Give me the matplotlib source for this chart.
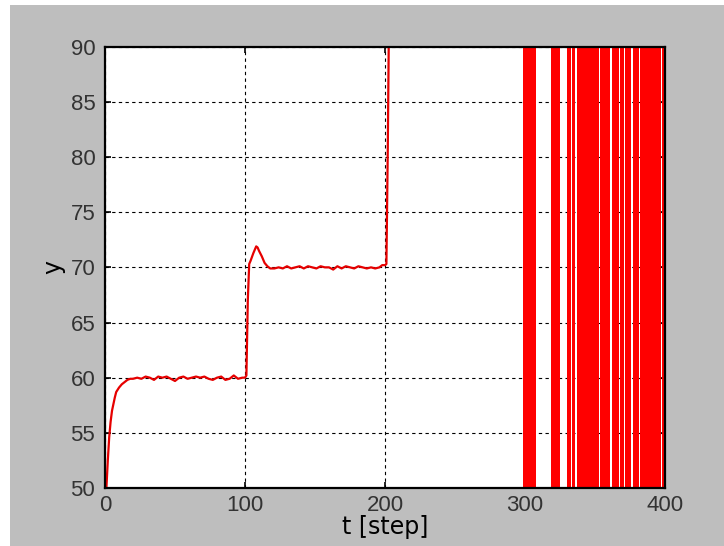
#!/usr/bin/env python3
"""
Step response plot: y vs t [step], controller diverging after t=300
"""

import matplotlib

matplotlib.use("Agg")
import matplotlib.pyplot as plt
from matplotlib.patches import Rectangle

# --- data ---
t_main = [
    0, 1, 2, 3, 4, 5, 6, 7, 8, 10, 12, 14, 16, 18,
    20, 23, 26, 29, 32, 35, 38, 41, 44, 47, 50, 53, 56, 59, 62,
    65, 68, 71, 74, 77, 80, 83, 86, 89, 92, 95, 98, 100,
    101, 102, 103, 104, 106, 108, 109, 110, 112, 114, 116, 118,
    121, 124, 127, 130, 133, 136, 139, 142, 145, 148, 151, 154,
    157, 160, 163, 166, 169, 172, 175, 178, 181, 184, 187, 190,
    193, 196, 198, 200, 201, 202, 203,
]
y_main = [
    50.0, 50.0, 52.5, 54.6, 56.0, 57.0, 57.6, 58.2, 58.7, 59.1, 59.4, 59.6, 59.8, 59.9,
    59.9, 60.0, 59.9, 60.1, 60.0, 59.8, 60.1, 60.0, 60.1, 59.9, 59.7, 60.0, 60.1, 59.9, 60.0,
    60.1, 60.0, 60.1, 59.9, 59.8, 60.0, 60.1, 59.8, 59.9, 60.2, 59.9, 60.0, 60.0,
    60.2, 67.0, 70.3, 70.6, 71.3, 71.9, 71.8, 71.5, 71.0, 70.4, 70.1, 69.9,
    69.9, 70.0, 69.9, 70.1, 69.9, 70.0, 70.1, 69.9, 70.1, 70.0, 69.9, 70.1,
    70.0, 70.0, 69.8, 70.1, 69.9, 70.1, 70.0, 69.9, 70.1, 70.0, 69.9, 70.0,
    69.9, 70.0, 70.2, 70.2, 70.3, 80.9, 95.0,
]

# spans where the diverging signal sweeps across the whole window
band_start = [298.6, 318.8, 330.0, 333.4, 336.8, 353.4, 361.8, 368.1, 371.2, 377.2, 382.4, 397.6]
band_end = [308.2, 324.7, 332.8, 335.7, 352.6, 360.9, 367.2, 370.4, 375.7, 381.2, 397.0, 400.0]

x_ticks = [0, 100, 200, 300, 400]
y_ticks = [50, 55, 60, 65, 70, 75, 80, 85, 90]

# --- figure ---
fig = plt.figure(figsize=(7.24, 5.46), dpi=100, facecolor="#bebebe")
# white page margin on the left and top of the screenshot
fig.patches.append(Rectangle((0, 0), 10 / 724, 1, transform=fig.transFigure,
                             facecolor="white", edgecolor="none", zorder=-1))
fig.patches.append(Rectangle((0, 541 / 546), 1, 5 / 546, transform=fig.transFigure,
                             facecolor="white", edgecolor="none", zorder=-1))

ax = fig.add_axes([105 / 724, 58 / 546, 560 / 724, 441.3 / 546])
ax.set_facecolor("white")

ax.plot(t_main, y_main, color="#e60000", linewidth=1.6, zorder=3)
for s, e in zip(band_start, band_end):
    ax.axvspan(s, e, color="red", linewidth=0, zorder=3)

ax.set_xlim(0, 400)
ax.set_ylim(50, 90)
ax.set_xticks(x_ticks)
ax.set_yticks(y_ticks)

ax.grid(True, color="black", linestyle=(0, (3, 3)), linewidth=0.8, zorder=1)
ax.set_axisbelow(True)

for sp in ax.spines.values():
    sp.set_linewidth(1.6)
    sp.set_color("black")
    sp.set_zorder(4)

ax.tick_params(direction="in", length=4, width=1.2, top=True, right=True,
               colors="black", labelcolor="#333333")
ax.tick_params(axis="y", pad=7)
ax.tick_params(axis="x", pad=5)
for lab in ax.get_xticklabels() + ax.get_yticklabels():
    lab.set_fontfamily("Liberation Sans")
    lab.set_fontsize(16)

ax.set_xlabel("t [step]", fontsize=17, labelpad=-1, family="DejaVu Sans")
ax.set_ylabel("y", fontsize=17, labelpad=4, family="DejaVu Sans")

plt.savefig("out.png", dpi=100, facecolor=fig.get_facecolor())
print("saved out.png")
